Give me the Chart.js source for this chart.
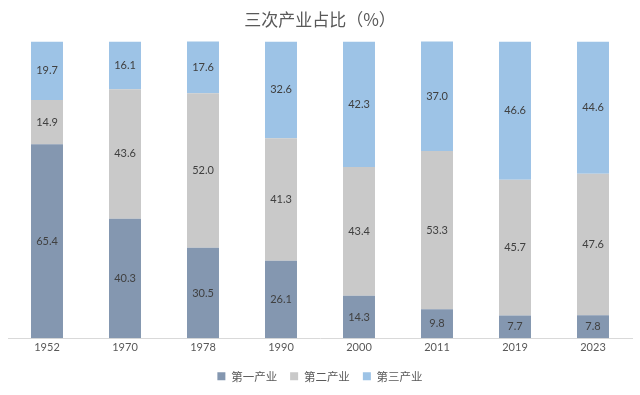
<!DOCTYPE html>
<html>
<head>
<meta charset="utf-8">
<script src="https://cdn.jsdelivr.net/npm/chart.js@4"></script>
<style>
  body { margin: 0; background: #fff; }
  #wrap { width: 640px; height: 395px; }
</style>
</head>
<body>
<div id="wrap"><canvas id="chart"></canvas></div>
<script>
// categories and values
var years = ['1952', '1970', '1978', '1990', '2000', '2011', '2019', '2023']
var primary = [65.4, 40.3, 30.5, 26.1, 14.3, 9.8, 7.7, 7.8]
var secondary = [14.9, 43.6, 52.0, 41.3, 43.4, 53.3, 45.7, 47.6]
var tertiary = [19.7, 16.1, 17.6, 32.6, 42.3, 37.0, 46.6, 44.6]

// labels in the middle of each bar piece
var barLabels = {
    id: 'barLabels',
    afterDatasetsDraw: function(chart) {
        var ctx = chart.ctx
        ctx.save()
        ctx.font = '11px Lato, "Liberation Sans", sans-serif'
        ctx.fillStyle = '#404040'
        ctx.textAlign = 'center'
        ctx.textBaseline = 'middle'
        chart.data.datasets.forEach(function(ds, i) {
            chart.getDatasetMeta(i).data.forEach(function(bar, j) {
                var mid = (bar.y + bar.base) / 2
                ctx.fillText(ds.data[j].toFixed(1), bar.x, mid)
            })
        })
        ctx.restore()
    }
}

var ctx = document.getElementById('chart').getContext('2d')
var myChart = new Chart(ctx, {
    type: 'bar',
    data: {
        labels: years,
        datasets: [{
            label: '第一产业',
            backgroundColor: '#8497B0',
            data: primary
        }, {
            label: '第二产业',
            backgroundColor: '#C9C9C9',
            data: secondary
        }, {
            label: '第三产业',
            backgroundColor: '#9DC3E6',
            data: tertiary
        }]
    },
    options: {
        responsive: true,
        maintainAspectRatio: false,
        animation: false,
        layout: { padding: { left: 8, right: 8, top: 4, bottom: 3 } },
        datasets: { bar: { categoryPercentage: 1, barPercentage: 0.41 } },
        plugins: {
            title: {
                display: true,
                text: '三次产业占比（%）',
                color: '#595959',
                font: { family: '"Noto Sans CJK SC", sans-serif', size: 17, weight: 'normal' },
                padding: { top: 5, bottom: 12 }
            },
            legend: {
                position: 'bottom',
                labels: {
                    boxWidth: 8,
                    boxHeight: 8,
                    padding: 13,
                    color: '#595959',
                    font: { family: '"Noto Sans CJK SC", sans-serif', size: 11.5 }
                }
            },
            tooltip: { enabled: false }
        },
        scales: {
            x: {
                stacked: true,
                grid: { display: false, drawTicks: false },
                border: { color: '#D9D9D9' },
                ticks: {
                    color: '#595959',
                    padding: 3,
                    font: { family: 'Lato, "Liberation Sans", sans-serif', size: 11 }
                }
            },
            y: {
                stacked: true,
                min: 0,
                max: 100,
                display: false
            }
        }
    },
    plugins: [barLabels]
});
</script>
</body>
</html>
